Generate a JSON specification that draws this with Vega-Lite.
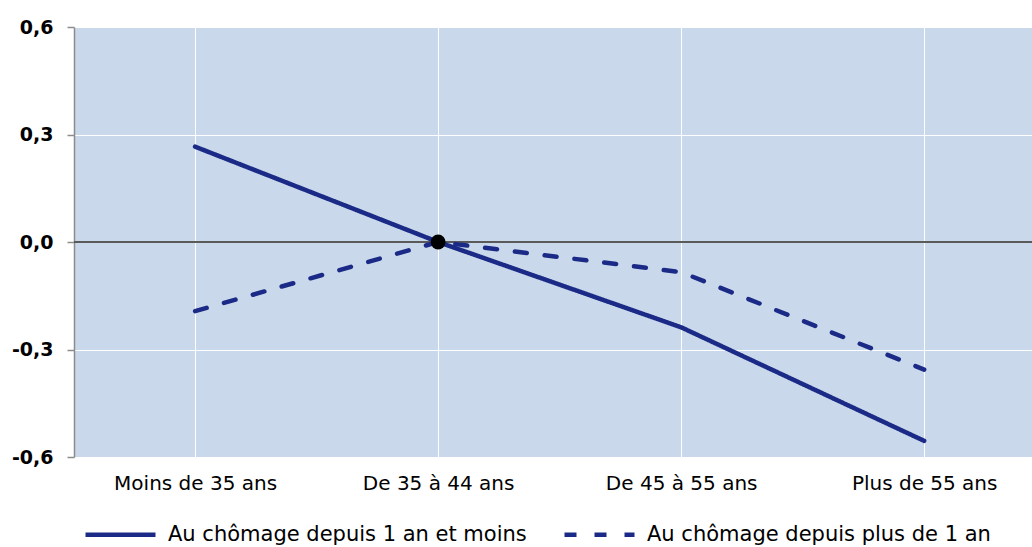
{
  "$schema": "https://vega.github.io/schema/vega-lite/v6.json",
  "width": 958,
  "height": 430,
  "autosize": {"type": "none"},
  "padding": {"left": 74, "top": 27, "right": 0, "bottom": 90},
  "background": "#ffffff",
  "config": {
    "view": {"fill": "#C9D8EA", "stroke": null},
    "font": "DejaVu Sans"
  },
  "data": {
    "values": [
      {"age": "Moins de 35 ans", "serie": "Au chômage depuis 1 an et moins", "value": 0.266},
      {"age": "De 35 à 44 ans", "serie": "Au chômage depuis 1 an et moins", "value": 0.0},
      {"age": "De 45 à 55 ans", "serie": "Au chômage depuis 1 an et moins", "value": -0.238},
      {"age": "Plus de 55 ans", "serie": "Au chômage depuis 1 an et moins", "value": -0.555},
      {"age": "Moins de 35 ans", "serie": "Au chômage depuis plus de 1 an", "value": -0.193},
      {"age": "De 35 à 44 ans", "serie": "Au chômage depuis plus de 1 an", "value": 0.0},
      {"age": "De 45 à 55 ans", "serie": "Au chômage depuis plus de 1 an", "value": -0.084},
      {"age": "Plus de 55 ans", "serie": "Au chômage depuis plus de 1 an", "value": -0.356}
    ]
  },
  "encoding": {
    "x": {
      "field": "age",
      "type": "ordinal",
      "sort": ["Moins de 35 ans", "De 35 à 44 ans", "De 45 à 55 ans", "Plus de 55 ans"],
      "scale": {"type": "point", "padding": 0.471, "align": 0.529},
      "axis": {
        "title": null,
        "domain": false,
        "ticks": false,
        "grid": true,
        "gridColor": "#ffffff",
        "gridWidth": 1,
        "labelAngle": 0,
        "labelFontSize": 20,
        "labelColor": "#000000",
        "labelPadding": 16
      }
    },
    "y": {
      "field": "value",
      "type": "quantitative",
      "scale": {"domain": [-0.6, 0.6], "nice": false},
      "axis": {
        "title": null,
        "values": [-0.6, -0.3, 0, 0.3, 0.6],
        "labelExpr": "replace(replace(format(datum.value, '.1f'), '.', ','), '\u2212', '-')",
        "labelFontSize": 19,
        "labelFontWeight": "bold",
        "labelColor": "#000000",
        "labelPadding": 14,
        "domainColor": "#8c8c8c",
        "domainWidth": 1.5,
        "tickColor": "#8c8c8c",
        "tickSize": 7,
        "tickWidth": 1.5,
        "grid": true,
        "gridColor": "#ffffff",
        "gridWidth": 1
      }
    }
  },
  "layer": [
    {
      "mark": {"type": "rule", "color": "#5a5a5a", "strokeWidth": 2},
      "encoding": {"y": {"datum": 0}, "x": null}
    },
    {
      "mark": {"type": "line", "color": "#1A2A86", "strokeWidth": 4.5, "strokeCap": "round"},
      "encoding": {
        "strokeDash": {
          "field": "serie",
          "type": "nominal",
          "scale": {
            "domain": ["Au chômage depuis 1 an et moins", "Au chômage depuis plus de 1 an"],
            "range": [[1, 0], [12, 18]]
          },
          "legend": {
            "title": null,
            "orient": "none",
            "legendX": 9,
            "legendY": 470,
            "direction": "horizontal",
            "columns": 2,
            "columnPadding": 28,
            "symbolType": "stroke",
            "symbolSize": 4900,
            "symbolStrokeWidth": 4.5,
            "symbolStrokeColor": "#1A2A86",
            "labelFontSize": 21,
            "labelColor": "#000000",
            "labelOffset": 10,
            "labelLimit": 500
          }
        }
      }
    },
    {
      "transform": [{"filter": "datum.age == 'De 35 à 44 ans' && datum.serie == 'Au chômage depuis 1 an et moins'"}],
      "mark": {"type": "point", "filled": true, "color": "#000000", "size": 220, "opacity": 1}
    }
  ]
}
